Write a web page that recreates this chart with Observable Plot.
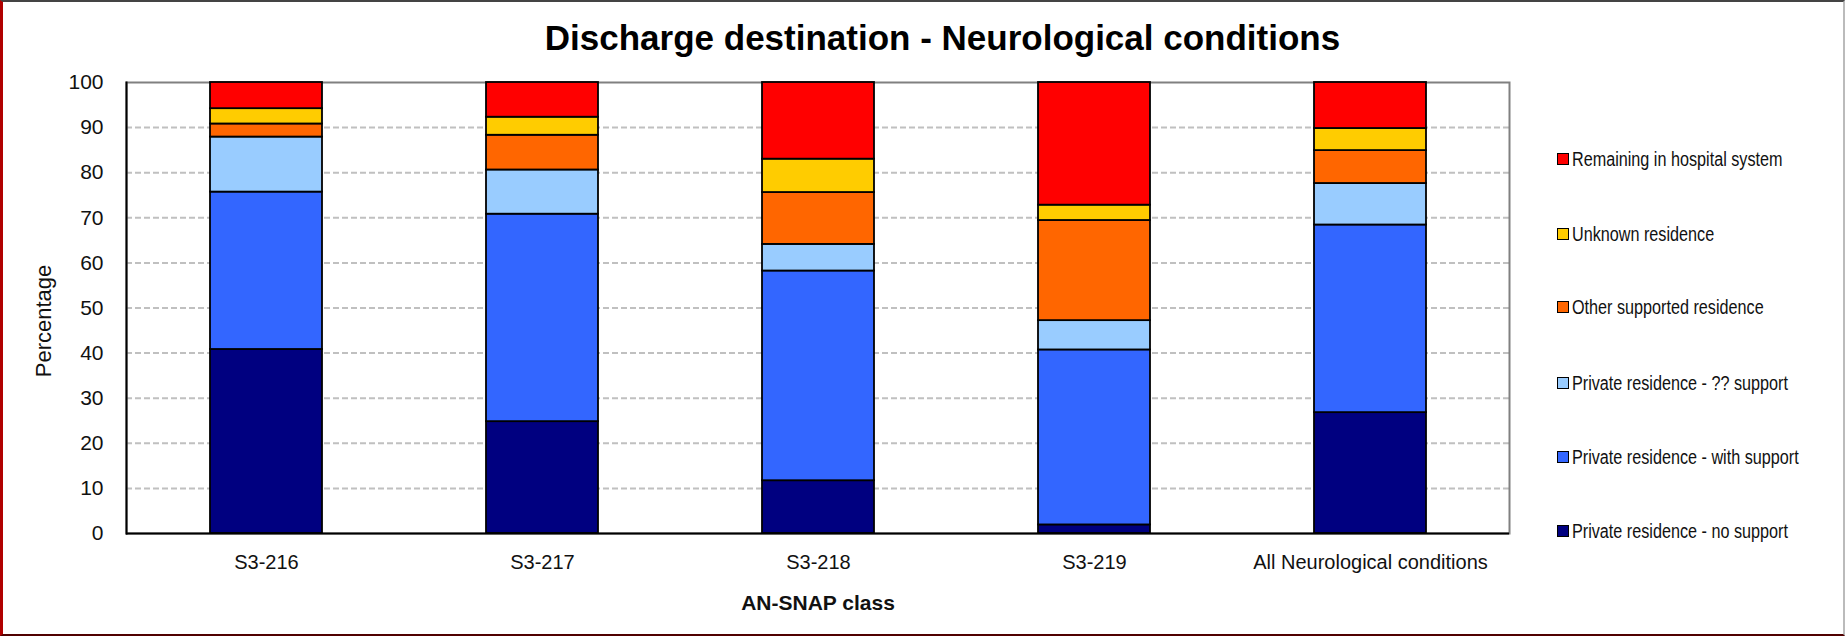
<!DOCTYPE html>
<html>
<head>
<meta charset="utf-8">
<script src="https://cdn.jsdelivr.net/npm/d3@7"></script>
<script src="https://cdn.jsdelivr.net/npm/@observablehq/plot@0.6"></script>
<style>
  html, body { margin: 0; padding: 0; background: #fff; }
  #wrap { position: relative; width: 1845px; height: 636px; overflow: hidden; background: #fff;
          font-family: "Liberation Sans Narrow", "Arial Narrow", "Liberation Sans", Arial, sans-serif; }
  #title { position: absolute; left: 40px; right: 0; top: 20px; text-align: center;
           font-size: 35px; line-height: 35px; font-weight: bold; color: #000; }
  #plot { position: absolute; left: 0; top: 0; }
  #legend { position: absolute; left: 1557px; top: 0; }
  .item { position: absolute; left: 0; display: flex; align-items: center; white-space: nowrap;
          font-size: 19.5px; color: #111; }
  .item span { display: inline-block; transform: scaleX(0.83); transform-origin: left center; }
  .sw { width: 10px; height: 10px; border: 1.5px solid #000; margin-right: 3px; flex: none; }
  #border { position: absolute; left: 0; top: 0; width: 1845px; height: 636px; box-sizing: border-box;
            border-top: 2px solid #444; border-right: 2px solid #bbb; border-left: 3px solid #b00000;
            border-bottom: 2px solid #500000; pointer-events: none; }
</style>
</head>
<body>
<div id="wrap">
  <div id="title">Discharge destination - Neurological conditions</div>
  <div id="plot"></div>
  <div id="legend"></div>
  <div id="border"></div>
</div>
<script>
const categories = ["S3-216", "S3-217", "S3-218", "S3-219", "All Neurological conditions"];
const series = [
  "Private residence - no support",
  "Private residence - with support",
  "Private residence - ?? support",
  "Other supported residence",
  "Unknown residence",
  "Remaining in hospital system"
];
const colors = ["#000080", "#3366FF", "#99CCFF", "#FF6600", "#FFCC00", "#FF0000"];
// values per series, one per category
const noSupport     = [40.8, 24.8, 11.7,  1.9, 26.8];
const withSupport   = [34.9, 46.0, 46.5, 38.8, 41.6];
const unknownSupport= [12.2,  9.8,  5.9,  6.5,  9.2];
const otherSupported= [ 2.9,  7.7, 11.5, 22.2,  7.3];
const unknownRes    = [ 3.4,  4.0,  7.4,  3.4,  4.9];
const remaining     = [ 5.8,  7.7, 17.0, 27.2, 10.2];
const yTicks = [0, 10, 20, 30, 40, 50, 60, 70, 80, 90, 100];
const gridTicks = [10, 20, 30, 40, 50, 60, 70, 80, 90];

const seriesValues = [noSupport, withSupport, unknownSupport, otherSupported, unknownRes, remaining];
const data = [];
categories.forEach((c, i) => {
  series.forEach((s, j) => data.push({category: c, series: s, value: seriesValues[j][i]}));
});

const chart = Plot.plot({
  width: 1845,
  height: 636,
  marginLeft: 126,
  marginRight: 336,
  marginTop: 82,
  marginBottom: 103,
  style: {fontFamily: '"Liberation Sans Narrow", "Arial Narrow", "Liberation Sans", Arial, sans-serif', background: "transparent"},
  x: {domain: categories, paddingInner: 0.595, paddingOuter: 0.2975, label: null},
  y: {domain: [0, 100], label: null},
  color: {domain: series, range: colors},
  marks: [
    Plot.ruleY(gridTicks, {stroke: "#c0c0c0", strokeWidth: 2, strokeDasharray: "6,3"}),
    Plot.frame({stroke: "#808080", strokeWidth: 2}),
    Plot.barY(data, {x: "category", y: "value", fill: "series", stroke: "#000", strokeWidth: 1.8}),
    Plot.ruleY([0], {stroke: "#000", strokeWidth: 2}),
    Plot.frame({anchor: "left", stroke: "#000", strokeWidth: 2}),
    Plot.axisY(yTicks, {tickSize: 0, tickPadding: 23, fontSize: 21, color: "#111", label: null}),
    Plot.axisX({tickSize: 0, tickPadding: 21, fontSize: 20, color: "#111", label: null}),
    Plot.text(["AN-SNAP class"], {frameAnchor: "bottom", dy: 76, fontSize: 21, fontWeight: "bold", fill: "#111"}),
    Plot.text(["Percentage"], {frameAnchor: "left", textAnchor: "middle", dx: -83, dy: 13, rotate: -90, fontSize: 22, fill: "#111"})
  ]
});
document.getElementById("plot").appendChild(chart);

// legend (top to bottom = reversed stack order)
const legendY = [159, 234, 307, 383, 457, 531];
const legend = document.getElementById("legend");
series.slice().reverse().forEach((s, k) => {
  const idx = series.indexOf(s);
  const item = document.createElement("div");
  item.className = "item";
  item.style.top = (legendY[k] - 12) + "px";
  item.style.height = "24px";
  const sw = document.createElement("div");
  sw.className = "sw";
  sw.style.background = colors[idx];
  const t = document.createElement("span");
  t.textContent = s;
  item.appendChild(sw);
  item.appendChild(t);
  legend.appendChild(item);
});
</script>
</body>
</html>
